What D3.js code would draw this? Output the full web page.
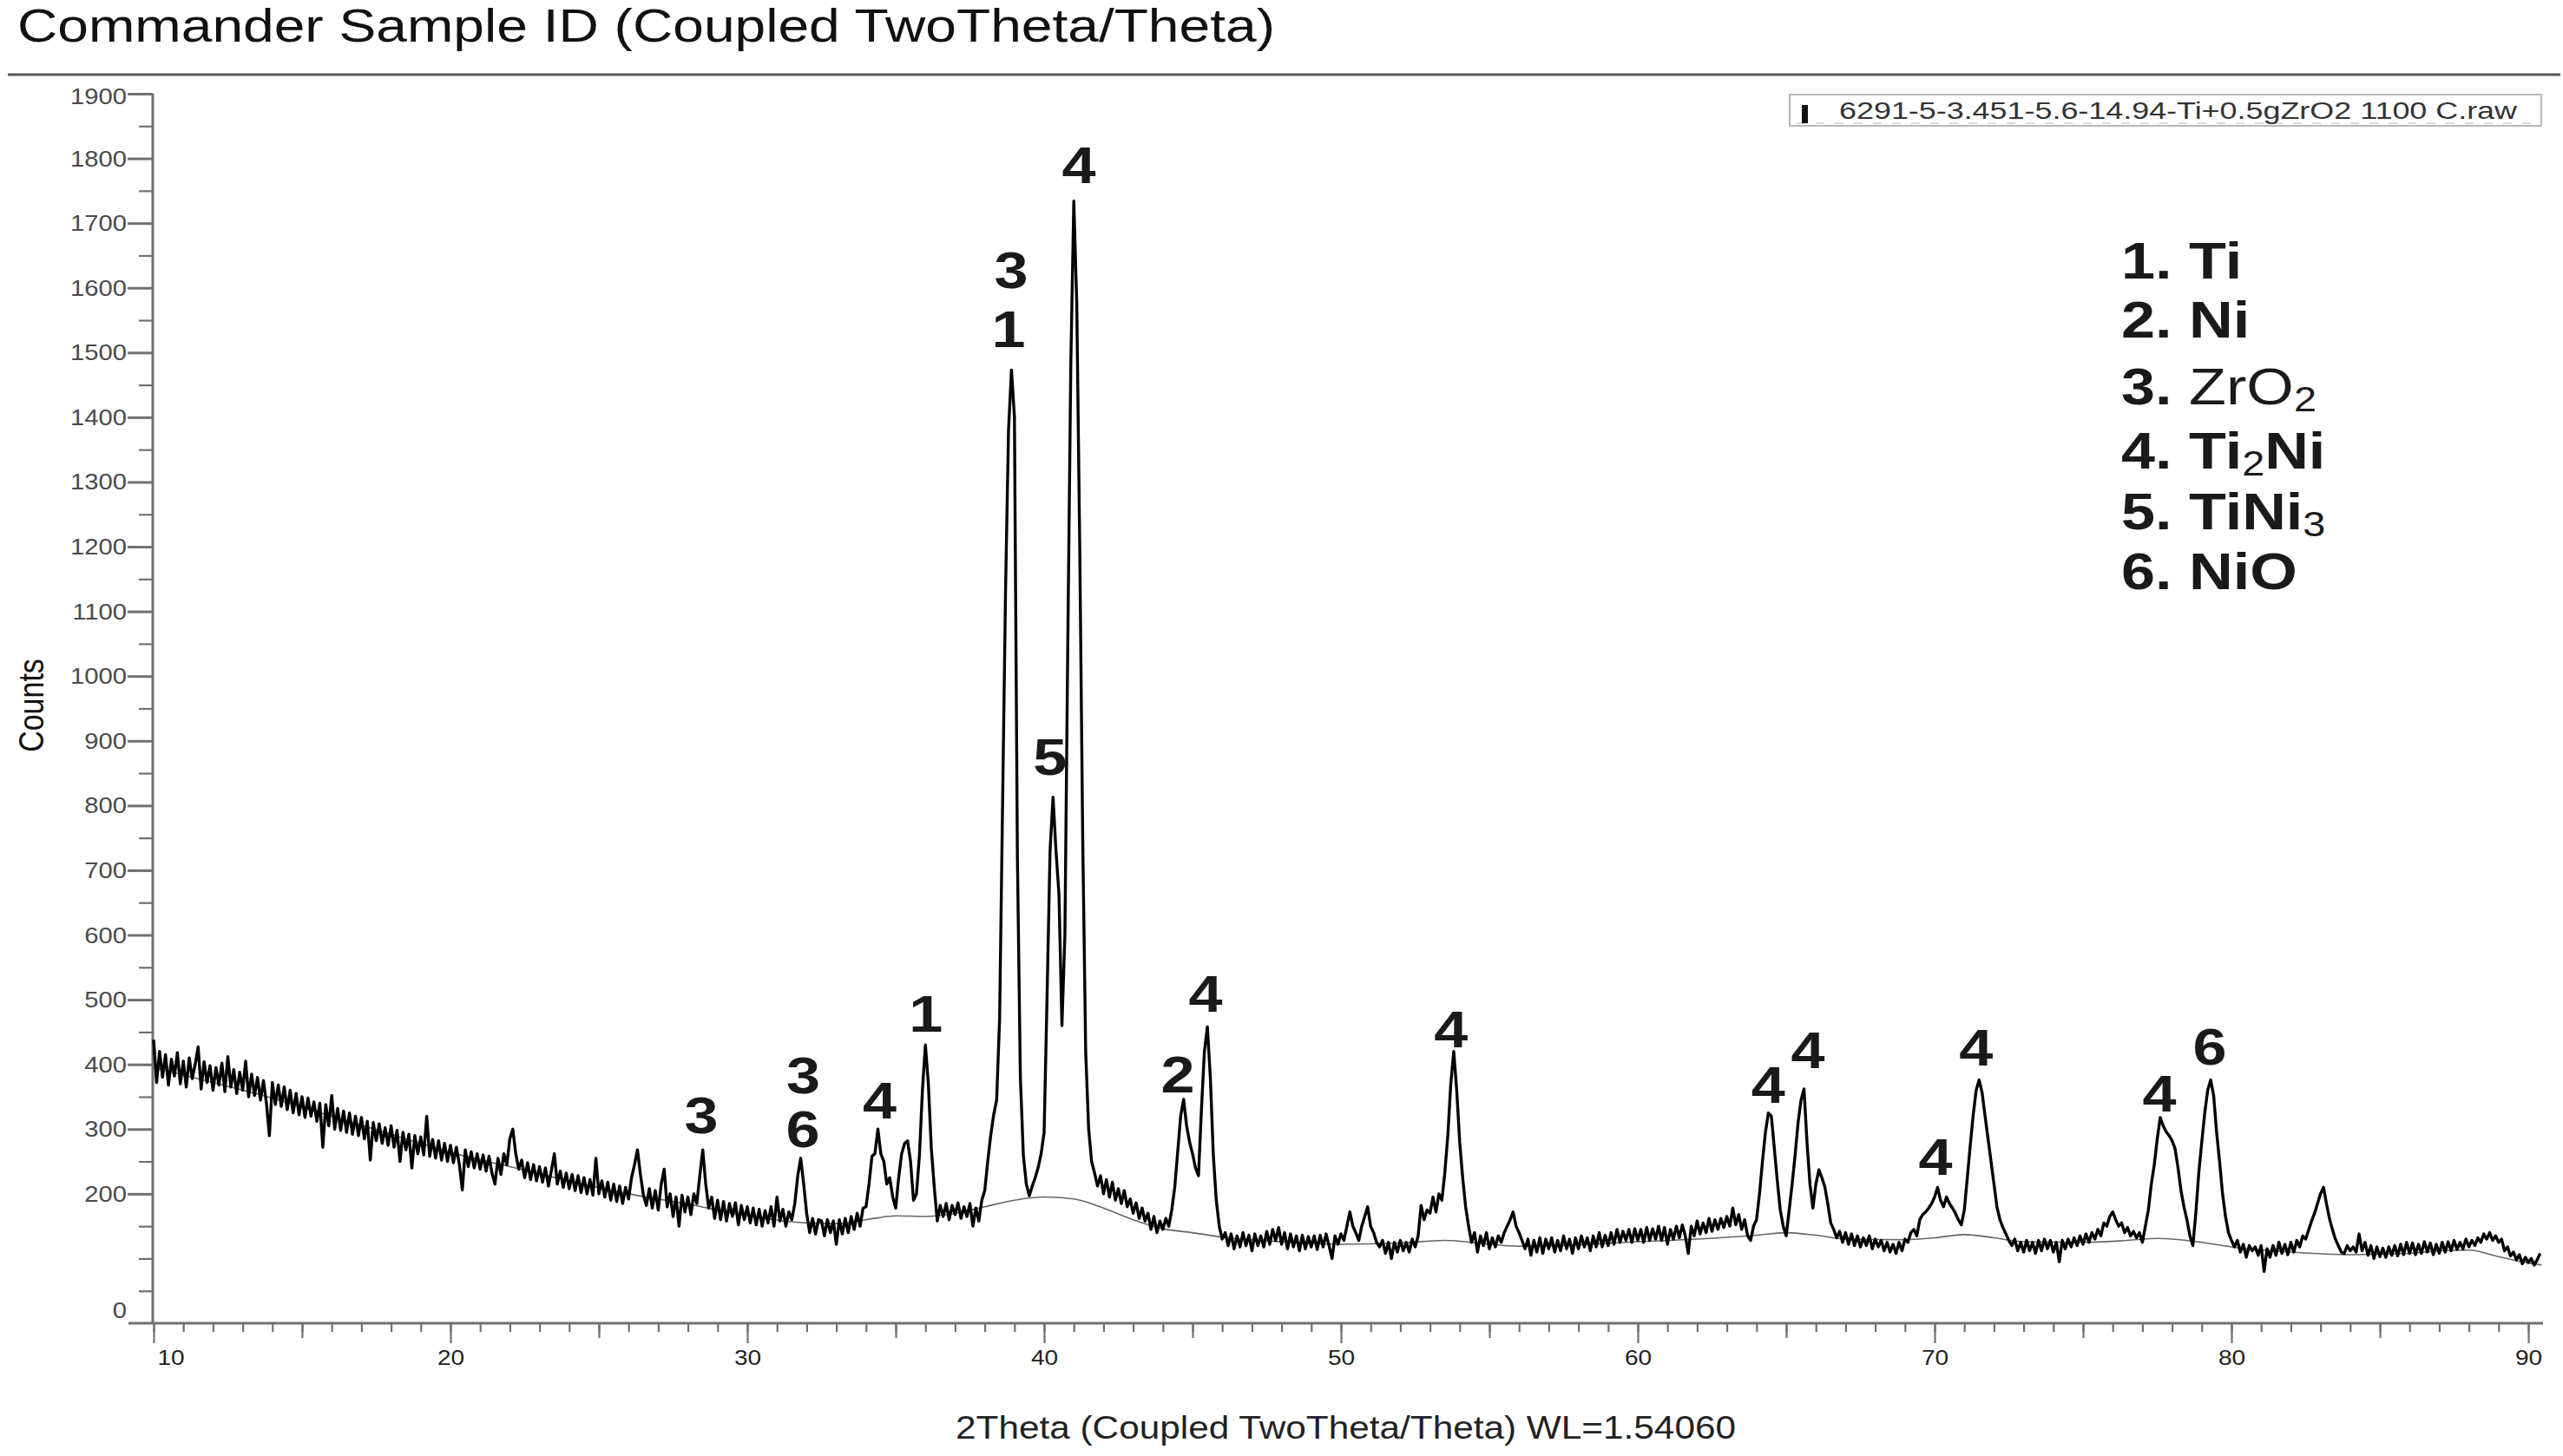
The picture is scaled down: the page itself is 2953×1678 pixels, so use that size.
<!DOCTYPE html>
<html><head><meta charset="utf-8">
<script src="https://cdn.jsdelivr.net/npm/d3@7"></script>
<style>
html,body{margin:0;padding:0;background:#fff;}
svg{display:block;}
text{font-family:"Liberation Sans",Arial,Helvetica,sans-serif;}
</style>
</head><body>
<svg id="chart" width="2953" height="1678"></svg>
<script>
// ---------------- DATA ----------------
const titleText = "Commander Sample ID (Coupled TwoTheta/Theta)";
const xTitleText = "2Theta (Coupled TwoTheta/Theta) WL=1.54060";
const yTitleText = "Counts";
const seriesName = "6291-5-3.451-5.6-14.94-Ti+0.5gZrO2 1100 C.raw";

const twoThetaStart = 10, twoThetaStep = 0.1;
// counts, one value per 0.1 degree
const counts10 = [438,372,420,380,415,368,408,382,418,370,
 405,365,410,378,400,427,362,404,372,398,
 360,395,368,402,358,412,365,392,355,388,
 360,405,350,385,352,380,345,375,340,290,
 372,338,368,335,365,330,360,325,355,322,
 350,318,348,320,342,312,340,272,338,305,
 352,300,332,298,328,295,325,292,320,290,
 318,285,312,252,310,282,308,278,302,275,
 305,272,298,250,295,268,292,240,290,262,
 288,260,320,258,284,255,282,252,278,250];
const counts20 = [275,248,272,245,206,268,242,265,240,262,
 238,260,235,258,232,215,255,230,262,245,
 285,300,262,238,252,225,248,222,245,220,
 242,218,240,212,236,262,215,235,210,232,
 208,230,205,228,202,225,200,222,198,255,
 200,220,195,218,190,215,188,212,185,210,
 192,225,245,268,230,198,182,208,178,205,
 175,215,238,180,200,165,195,150,198,172,
 195,168,200,185,228,268,215,178,195,162,
 190,160,188,158,185,165,186,152,182,160];
const counts30 = [180,155,178,152,176,150,174,155,180,150,
 195,158,176,150,172,160,185,228,255,215,
 170,140,162,138,160,158,135,160,140,158,
 122,160,138,162,140,165,145,170,150,178,
 180,215,258,262,300,262,250,215,225,195,
 178,225,262,278,282,250,190,200,260,360,
 430,370,270,210,158,182,165,185,160,182,
 168,186,162,180,165,185,150,178,158,190,
 205,250,290,322,345,470,800,1130,1380,1473,
 1400,720,380,260,215,197,212,225,241,262];
const counts40 = [295,507,730,813,730,663,460,600,1063,1485,
 1734,1575,1200,750,420,300,250,232,212,228,
 200,222,195,218,190,208,185,205,180,192,
 170,186,162,178,158,170,145,165,140,158,
 145,162,150,175,210,265,320,346,305,280,
 262,240,228,330,420,458,380,260,190,150,
 130,140,120,138,115,135,118,140,120,136,
 112,138,120,135,118,142,122,145,128,148,
 122,140,115,138,118,135,112,136,115,134,
 118,135,114,136,118,138,120,100,135,122];
const counts50 = [138,128,150,172,150,140,128,150,165,180,
 150,140,125,118,128,108,125,100,125,110,
 128,112,125,110,130,118,135,182,160,175,
 170,195,172,200,190,233,290,370,420,360,
 280,225,180,150,125,140,110,135,120,140,
 115,132,118,135,125,140,150,160,172,150,
 140,128,115,130,105,128,110,132,108,130,
 115,132,110,128,112,135,115,130,108,132,
 115,135,118,132,112,135,118,140,118,136,
 120,140,122,145,125,142,128,145,125,146];
const counts60 = [128,145,125,148,128,146,130,150,128,148,
 122,145,130,150,132,152,135,108,150,135,
 158,138,155,140,162,142,160,145,162,148,
 165,150,178,152,168,145,160,135,128,150,
 160,200,250,295,325,320,270,220,175,150,
 135,175,215,260,310,345,362,280,215,178,
 215,237,225,211,185,155,145,132,142,125,
 140,122,138,120,135,118,132,120,135,115,
 130,118,128,112,125,110,122,108,125,112,
 130,125,140,145,135,160,168,172,178,185];
const counts70 = [195,210,190,180,195,185,178,170,160,152,
 175,224,275,322,360,376,356,320,285,250,
 215,180,160,148,138,128,120,130,112,125,
 110,128,112,125,108,128,112,130,115,128,
 110,125,95,128,115,130,118,132,120,135,
 122,138,125,140,130,145,135,155,150,165,
 172,160,150,155,140,148,135,142,132,140,
 125,150,175,215,245,285,318,305,296,290,
 282,270,240,205,180,160,135,120,170,233,
 280,325,360,376,352,295,250,200,165,140];
const counts80 = [128,118,128,110,122,102,120,112,118,105,
 120,80,115,102,120,105,125,108,122,106,
 125,110,128,118,135,130,144,158,170,185,
 200,210,185,162,145,130,120,110,108,120,
 112,118,110,138,112,125,105,120,100,118,
 103,116,102,118,105,120,104,122,106,125,
 108,124,106,122,108,126,110,124,106,122,
 108,125,110,126,112,128,114,125,115,130,
 118,128,120,132,125,138,130,140,128,135,
 125,130,112,118,104,110,98,106,92,102,
 94,100,90,98,108];

// fitted background curve
const bgTheta = [10,12,14,16,18,20,22,24,26,28,30,32,33,34,35,36,37,38,39,40,41,42,43,44,45,46,48,50,52,53.5,55,56,58,60,62,64,65,66,67,69,70,71,72,73,75,76.5,77.5,79,80,82,84,86,87,88,89,90,90.45];
const bgCounts = [395,372,348,320,292,264,242,220,200,184,166,155,154,160,166,165,170,180,190,195,192,178,160,146,140,133,126,122,124,128,122,119,121,126,130,136,140,136,130,129,132,137,132,126,125,128,131,125,118,110,106,108,112,113,103,93,90];

// peak labels: text, 2theta, count at label baseline
const peakLabels = [
 ["4",41.17,1762],["3",38.89,1599],["1",38.8,1508],["5",40.2,848],
 ["1",36.02,451],["2",44.5,357],["4",45.44,482],["4",53.71,427],
 ["4",64.39,340],["4",65.73,394],["4",70.03,229],["4",71.4,398],
 ["4",77.57,327],["6",79.27,400],["3",28.45,293],["3",31.89,355],
 ["6",31.87,272],["4",34.46,317]
];

// phase legend rows: [text, style]
const legendRows = [
 [["1. Ti","b"]],
 [["2. Ni","b"]],
 [["3. ","b"],["ZrO","n"],["2","sub"]],
 [["4. Ti","b"],["2","sub"],["Ni","b"]],
 [["5. TiNi","b"],["3","sub"]],
 [["6. NiO","b"]]
];

const xTickLabels = [10,20,30,40,50,60,70,80,90];
const xMidTicks = [15,25,35,45,55,65,75,85];
const xMinorTicks = d3.range(10,91,1);
const yTickLabels = [0,200,300,400,500,600,700,800,900,1000,1100,1200,1300,1400,1500,1600,1700,1800,1900];
const yMinorTicks = d3.range(50,1900,50).filter(v => v % 100 !== 0 || v === 100);

// ---------------- DRAW ----------------
const W = 2953, H = 1678, SX = 1.17;
const svg = d3.select('#chart');
svg.append('rect').attr('width', W).attr('height', H).attr('fill', '#fff');

const x = d3.scaleLinear().domain([10, 90.45]).range([177, 2928.4]);
const y = d3.scaleLinear().domain([0, 1900]).range([1525, 108]);

const allCounts = [].concat(counts10, counts20, counts30, counts40, counts50, counts60, counts70, counts80);
const pattern = allCounts.map((c, i) => ({t: twoThetaStart + i * twoThetaStep, c}));
const background = bgTheta.map((t, i) => ({t, c: bgCounts[i]}));

// title and rule
svg.append('text').attr('x', 20).attr('y', 48).attr('font-size', 53)
  .attr('textLength', 1449).attr('lengthAdjust', 'spacingAndGlyphs')
  .attr('fill', '#111').text(titleText);
svg.append('line').attr('x1', 9).attr('x2', 2950).attr('y1', 86).attr('y2', 86)
  .attr('stroke', '#5a5a5a').attr('stroke-width', 3);

// x axis ticks
const axisColor = '#707070';
function styleAxis(g){ g.select('.domain').remove(); g.selectAll('line').attr('stroke', axisColor).attr('stroke-width', 2.2); }
svg.append('g').attr('transform', 'translate(0,1525)')
  .call(d3.axisBottom(x).tickValues(xMinorTicks).tickSize(10).tickFormat('')).call(styleAxis);
svg.append('g').attr('transform', 'translate(0,1525)')
  .call(d3.axisBottom(x).tickValues(xMidTicks).tickSize(17).tickFormat('')).call(styleAxis);
const gx = svg.append('g').attr('transform', 'translate(0,1525)')
  .call(d3.axisBottom(x).tickValues(xTickLabels).tickSize(23).tickFormat(d3.format('d')));
gx.call(styleAxis);
gx.selectAll('text').each(function(d){
  const t = d3.select(this);
  t.attr('y', null).attr('dy', null).attr('x', null)
   .attr('font-size', 24).attr('fill', '#222')
   .attr('text-anchor', d === 10 ? 'start' : 'middle')
   .attr('transform', `translate(${d === 10 ? 4 : 0},48) scale(${SX},1)`);
});
gx.attr('font-family', null);

// y axis ticks
svg.append('g').attr('transform', 'translate(176,0)')
  .call(d3.axisLeft(y).tickValues(yMinorTicks).tickSize(16).tickFormat('')).call(styleAxis);
const gy = svg.append('g').attr('transform', 'translate(176,0)')
  .call(d3.axisLeft(y).tickValues(yTickLabels.filter(v => v > 0)).tickSize(29).tickFormat(''));
gy.call(styleAxis);
gy.selectAll('line').attr('stroke-width', 3);
svg.append('g').selectAll('text').data(yTickLabels).join('text')
  .attr('text-anchor', 'end').attr('font-size', 25).attr('fill', '#4a4a4a')
  .attr('transform', d => `translate(146,${y(d) + (d === 0 ? -6 : (d === 1900 ? 12 : 9))}) scale(${SX},1)`)
  .text(d => d);

// axis lines
svg.append('line').attr('x1', 176).attr('x2', 176).attr('y1', y(1900)).attr('y2', 1526)
  .attr('stroke', axisColor).attr('stroke-width', 3);
svg.append('line').attr('x1', 148).attr('x2', 2930).attr('y1', 1525).attr('y2', 1525)
  .attr('stroke', axisColor).attr('stroke-width', 3);

// axis titles
svg.append('text').attr('x', 1101).attr('y', 1658).attr('font-size', 37)
  .attr('textLength', 899).attr('lengthAdjust', 'spacingAndGlyphs')
  .attr('fill', '#222').text(xTitleText);
svg.append('text').attr('text-anchor', 'middle').attr('font-size', 34).attr('fill', '#111')
  .attr('transform', `translate(50,813) scale(${SX},1) rotate(-90)`).text(yTitleText);

// background curve
svg.append('path').datum(background)
  .attr('d', d3.line().x(d => x(d.t)).y(d => y(d.c)).curve(d3.curveMonotoneX))
  .attr('fill', 'none').attr('stroke', '#666').attr('stroke-width', 1.6);

// measured pattern
svg.append('path').datum(pattern)
  .attr('d', d3.line().x(d => x(d.t)).y(d => y(d.c)))
  .attr('fill', 'none').attr('stroke', '#000').attr('stroke-width', 3.4)
  .attr('stroke-linejoin', 'round');

// peak labels
svg.append('g').selectAll('text').data(peakLabels).join('text')
  .attr('text-anchor', 'middle').attr('font-weight', 'bold').attr('font-size', 60).attr('fill', '#1a1a1a')
  .attr('transform', d => `translate(${x(d[1])},${y(d[2])}) scale(${SX},1)`)
  .text(d => d[0]);

// series legend box
const lg = svg.append('g');
lg.append('rect').attr('x', 2062).attr('y', 109).attr('width', 866).attr('height', 36)
  .attr('fill', '#fff').attr('stroke', '#a0a0a0').attr('stroke-width', 1.5);
lg.append('line').attr('x1', 2070).attr('x2', 2920).attr('y1', 142).attr('y2', 142)
  .attr('stroke', '#d0d0d0').attr('stroke-width', 1.5).attr('stroke-dasharray', '10 12');
lg.append('rect').attr('x', 2076).attr('y', 121).attr('width', 7).attr('height', 21).attr('fill', '#111');
lg.append('text').attr('x', 2119).attr('y', 137).attr('font-size', 27)
  .attr('textLength', 781).attr('lengthAdjust', 'spacingAndGlyphs')
  .attr('fill', '#333').text(seriesName);

// phase legend
const rowY = [321, 389, 466, 540, 610, 679];
legendRows.forEach((row, i) => {
  const t = svg.append('text').attr('font-size', 60).attr('fill', '#1a1a1a')
    .attr('transform', `translate(2444,${rowY[i]}) scale(${SX},1)`);
  let shifted = false;
  row.forEach(([txt, st]) => {
    const ts = t.append('tspan').text(txt);
    if (st === 'b') ts.attr('font-weight', 'bold');
    if (st === 'n') ts.attr('font-weight', 'normal');
    if (st === 'sub') { ts.attr('font-size', 40).attr('font-weight', 'normal').attr('dy', 8); shifted = true; }
    else if (shifted) { ts.attr('dy', -8); shifted = false; }
  });
});
</script>
</body></html>
